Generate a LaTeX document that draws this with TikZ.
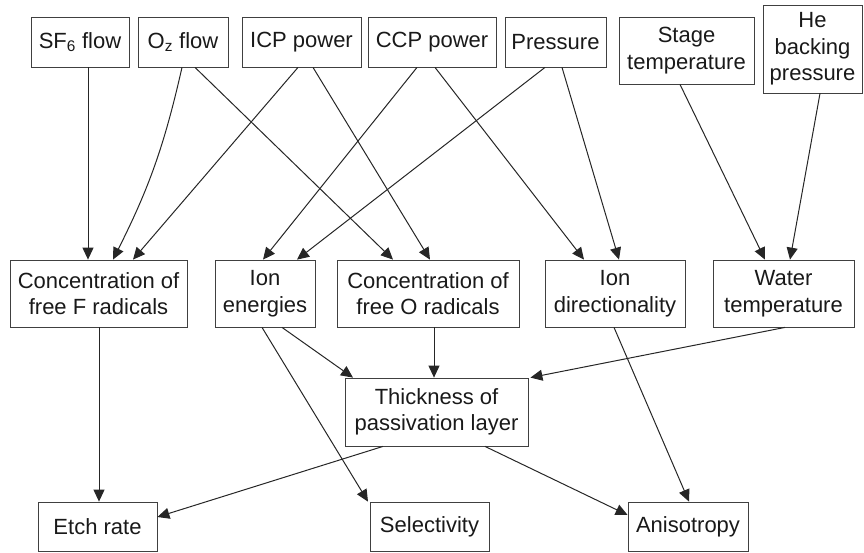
\documentclass[tikz,border=0pt]{standalone}
\usepackage{fontspec}
\setmainfont{Liberation Sans}
\usetikzlibrary{arrows.meta}
\begin{document}
\begin{tikzpicture}[x=1pt,y=-1pt,
  box/.style={draw=black!75,line width=0.8pt,inner sep=0pt,align=center,
    font=\fontsize{22}{26.5}\selectfont,text=black!90},
  conn/.style={draw=black!85,line width=1pt,-{Triangle[length=12pt,width=11pt]}}]
\useasboundingbox (0,0) rectangle (864,552);
% top row
\node[box,minimum width=98pt,minimum height=50pt] (sf6) at (80,42) {SF\textsubscript{6} flow};
\node[box,minimum width=90pt,minimum height=50pt] (o2) at (183,42) {O\textsubscript{z} flow};
\node[box,minimum width=119pt,minimum height=50pt] (icp) at (301.5,42) {ICP power};
\node[box,minimum width=128pt,minimum height=50pt] (ccp) at (432,42) {CCP power};
\node[box,minimum width=101pt,minimum height=50pt] (pres) at (555.5,42) {Pressure};
\node[box,minimum width=135pt,minimum height=67pt] (stage) at (686.5,50.5) {Stage\\temperature};
\node[box,minimum width=99pt,minimum height=88pt] (he) at (812.5,49) {He\\backing\\pressure};
% middle row
\node[box,minimum width=177pt,minimum height=67pt] (concf) at (98.5,293.5) {Concentration of\\free F radicals};
\node[box,minimum width=100pt,minimum height=67pt] (ione) at (265,293.5) {Ion\\energies};
\node[box,minimum width=182pt,minimum height=67pt] (conco) at (428,293.5) {Concentration of\\free O radicals};
\node[box,minimum width=140pt,minimum height=67pt] (iond) at (615,293.5) {Ion\\directionality};
\node[box,minimum width=141pt,minimum height=67pt] (water) at (783.5,293.5) {Water\\temperature};
% passivation
\node[box,minimum width=183pt,minimum height=68pt] (thick) at (436.5,412) {Thickness of\\passivation layer};
% bottom row
\node[box,minimum width=119pt,minimum height=49pt] (etch) at (97.5,526.5) {Etch rate};
\node[box,minimum width=119pt,minimum height=49pt] (sel) at (429.5,526.5) {Selectivity};
\node[box,minimum width=120pt,minimum height=49pt] (aniso) at (688,526.5) {Anisotropy};
% top -> middle
\draw[conn] ([xshift=8pt]sf6.south) -- ([xshift=-10.5pt]concf.north);
\draw[conn] ([xshift=-1pt]o2.south) to[bend left=7] ([xshift=14.5pt]concf.north);
\draw[conn] ([xshift=12pt]o2.south) -- ([xshift=-35pt]conco.north);
\draw[conn] ([xshift=-3.5pt]icp.south) -- ([xshift=34.5pt]concf.north);
\draw[conn] ([xshift=11.5pt]icp.south) -- ([xshift=2pt]conco.north);
\draw[conn] ([xshift=-15pt]ccp.south) -- ([xshift=-2pt]ione.north);
\draw[conn] ([xshift=3pt]ccp.south) -- ([xshift=-31pt]iond.north);
\draw[conn] ([xshift=-10.5pt]pres.south) -- ([xshift=32pt]ione.north);
\draw[conn] ([xshift=6.5pt]pres.south) -- ([xshift=4pt]iond.north);
\draw[conn] ([xshift=-6.5pt]stage.south) -- ([xshift=-18.5pt]water.north);
\draw[conn] ([xshift=7.5pt]he.south) -- ([xshift=6.5pt]water.north);
% middle -> lower
\draw[conn] ([xshift=0.5pt]concf.south) -- ([xshift=1.5pt]etch.north);
\draw[conn] ([xshift=-3pt]ione.south) -- ([xshift=-61.5pt]sel.north);
\draw[conn] ([xshift=17pt]ione.south) -- ([xshift=-83.5pt]thick.north);
\draw[conn] ([xshift=6pt]conco.south) -- ([xshift=-2.5pt]thick.north);
\draw[conn] ([xshift=1.5pt]water.south) -- ([xshift=2pt]thick.north east);
\draw[conn] ([xshift=-53.5pt]thick.south) -- ([yshift=9.5pt]etch.east);
\draw[conn] ([xshift=48.5pt]thick.south) -- ([yshift=11.5pt]aniso.west);
\draw[conn] ([xshift=-1pt]iond.south) -- ([xshift=1pt]aniso.north);
\end{tikzpicture}
\end{document}
